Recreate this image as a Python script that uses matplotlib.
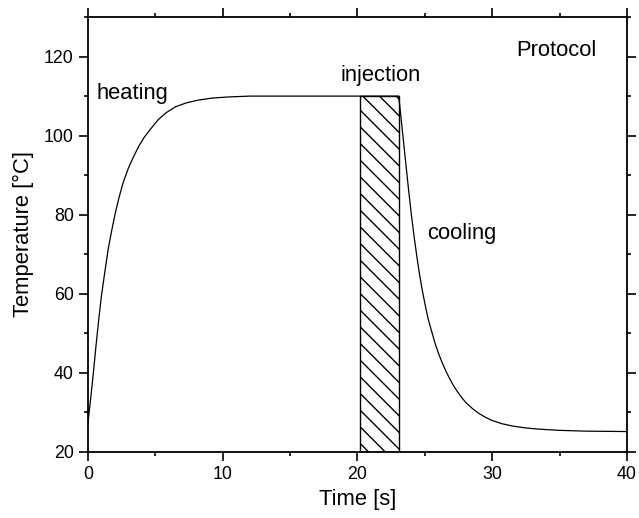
import matplotlib
matplotlib.use("Agg")
import matplotlib.pyplot as plt
from matplotlib.patches import Rectangle
from matplotlib.ticker import MultipleLocator

# heating branch
heat_t = [0, 0.2, 0.4, 0.6, 0.8, 1.0, 1.25, 1.5, 1.75, 2.0, 2.3, 2.6, 3.0, 3.4, 3.8, 4.2,
          4.7, 5.2, 5.8, 6.5, 7.3, 8.2, 9.2, 10.5, 12.0, 20.2]
heat_T = [27.3, 33.5, 40, 47, 53.5, 59.5, 65.5, 71.3, 75.8, 80, 84.3, 88, 91.8, 94.8, 97.5, 99.7,
          101.9, 104, 105.8, 107.3, 108.3, 109, 109.5, 109.8, 110, 110]

# cooling branch
cool_t = [23.06, 23.2, 23.4, 23.6, 23.8, 24.0, 24.2, 24.4, 24.6, 24.8, 25.0, 25.25, 25.5, 25.75,
          26.0, 26.3, 26.6, 26.9, 27.2, 27.6, 28.0, 28.5, 29.0, 29.5, 30.0, 30.7, 31.5, 32.5,
          33.5, 35.0, 37.0, 40.0]
cool_T = [110, 105.5, 99, 92.5, 86, 80, 74.5, 69.5, 65, 61, 57.5, 53.5, 50.5, 47.5,
          45, 42.4, 40.1, 38.1, 36.3, 34.3, 32.6, 31.0, 29.7, 28.7, 27.9, 27.1, 26.5, 26,
          25.7, 25.4, 25.2, 25.1]

# injection window
inj_start, inj_end = 20.2, 23.06
inj_low, inj_high = 20, 110

plt.rcParams['font.family'] = ['Liberation Sans', 'DejaVu Sans']
tick_fs = 12.8
label_fs = 15.8

fig = plt.figure(figsize=(6.39, 5.18), dpi=100)
ax = fig.add_axes([0.1377, 0.128, 0.8435, 0.839])

ax.add_patch(Rectangle((inj_start, inj_low), inj_end - inj_start, inj_high - inj_low,
                       facecolor='white', edgecolor='black', hatch='\\\\', lw=1.0, zorder=2))
ax.plot(heat_t + cool_t, heat_T + cool_T, color='black', lw=0.9, zorder=3)

ax.set_xlim(0, 40)
ax.set_ylim(20, 130)
ax.xaxis.set_major_locator(MultipleLocator(10))
ax.xaxis.set_minor_locator(MultipleLocator(5))
ax.yaxis.set_minor_locator(MultipleLocator(10))
ax.set_yticks([20, 40, 60, 80, 100, 120])
ax.tick_params(which='both', direction='out', top=True, right=True, width=1.2,
               labelsize=tick_fs, pad=3.5)
ax.tick_params(which='major', length=6.8)
ax.tick_params(which='minor', length=3)
for s in ax.spines.values():
    s.set_linewidth(1.3)

ax.set_xlabel('Time [s]', fontsize=label_fs, labelpad=4)
ax.set_ylabel('Temperature [°C]', fontsize=label_fs, labelpad=7)

ax.text(0.65, 109.2, 'heating', fontsize=label_fs, va='baseline')
ax.text(18.75, 113.8, 'injection', fontsize=label_fs, va='baseline')
ax.text(25.2, 73.8, 'cooling', fontsize=label_fs, va='baseline')
ax.text(31.8, 120.2, 'Protocol', fontsize=label_fs, va='baseline')

fig.savefig('out.png', dpi=100)
